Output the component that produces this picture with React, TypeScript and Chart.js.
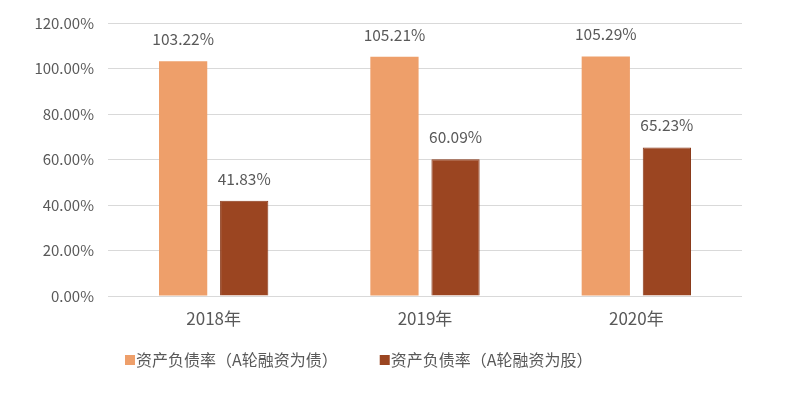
import React, { useEffect, useRef } from "react";
import { Chart, registerables } from "chart.js";

Chart.register(...registerables);

const categories = ["2018年", "2019年", "2020年"];
const seriesNames = ["资产负债率（A轮融资为债）", "资产负债率（A轮融资为股）"];
const debtValues = [103.22, 105.21, 105.29];
const equityValues = [41.83, 60.09, 65.23];
const seriesColors = ["#EE9F6A", "#9B4521"];
const FONT = "'Noto Sans CJK SC', 'Noto Sans', sans-serif";
const TEXT = "#595959";

const dataLabelPlugin = {
  id: "dataLabels",
  afterDatasetsDraw(chart: any) {
    const ctx = chart.ctx;
    ctx.save();
    ctx.font = `15.5px ${FONT}`;
    ctx.fillStyle = TEXT;
    ctx.textAlign = "center";
    ctx.textBaseline = "middle";
    chart.data.datasets.forEach((ds: any, i: number) => {
      const meta = chart.getDatasetMeta(i);
      meta.data.forEach((bar: any, j: number) => {
        ctx.fillText(ds.data[j].toFixed(2) + "%", bar.x, bar.y - 22);
      });
    });
    ctx.restore();
  },
};

const customLegendPlugin = {
  id: "customLegend",
  afterDraw(chart: any) {
    const ctx = chart.ctx;
    ctx.save();
    ctx.font = `16px ${FONT}`;
    ctx.textBaseline = "middle";
    ctx.textAlign = "left";
    let x = 125;
    const y = 360;
    chart.data.datasets.forEach((ds: any) => {
      ctx.fillStyle = ds.backgroundColor;
      ctx.fillRect(x, y - 5, 10, 10);
      ctx.fillStyle = TEXT;
      ctx.fillText(ds.label, x + 11, y);
      const w = ctx.measureText(ds.label).width;
      x += 11 + w + 42;
    });
    ctx.restore();
  },
};

export default function App() {
  const ref = useRef<HTMLCanvasElement | null>(null);
  useEffect(() => {
    document.body.style.margin = "0";
    if (!ref.current) return;
    const chart = new Chart(ref.current, {
      type: "bar",
      data: {
        labels: categories,
        datasets: [
          {
            label: seriesNames[0],
            data: debtValues,
            backgroundColor: seriesColors[0],
            categoryPercentage: 0.578,
            barPercentage: 0.79,
          },
          {
            label: seriesNames[1],
            data: equityValues,
            backgroundColor: seriesColors[1],
            borderColor: "#8A3A1A",
            borderWidth: 1,
            categoryPercentage: 0.578,
            barPercentage: 0.79,
          },
        ],
      },
      options: {
        animation: false,
        responsive: false,
        maintainAspectRatio: false,
        layout: { padding: { top: 21, right: 58, bottom: 60, left: 0 } },
        plugins: {
          legend: { display: false },
          tooltip: { enabled: false },
        },
        scales: {
          x: {
            grid: { display: false, drawTicks: false },
            border: { display: false },
            ticks: { color: TEXT, font: { family: FONT, size: 17 }, padding: 12 },
            afterFit(scale: any) {
              scale.height = 42;
            },
          },
          y: {
            min: 0,
            max: 120,
            ticks: {
              stepSize: 20,
              color: TEXT,
              font: { family: FONT, size: 15 },
              padding: 14,
              callback: (v: any) => Number(v).toFixed(2) + "%",
            },
            grid: { color: "#D9D9D9", lineWidth: 1, drawTicks: false },
            border: { display: false },
            afterFit(scale: any) {
              scale.width = 108;
            },
          },
        },
      },
      plugins: [dataLabelPlugin, customLegendPlugin],
    });
    return () => chart.destroy();
  }, []);
  return (
    <div style={{ width: 800, height: 398, background: "#fff" }}>
      <canvas ref={ref} width={800} height={398} />
    </div>
  );
}
